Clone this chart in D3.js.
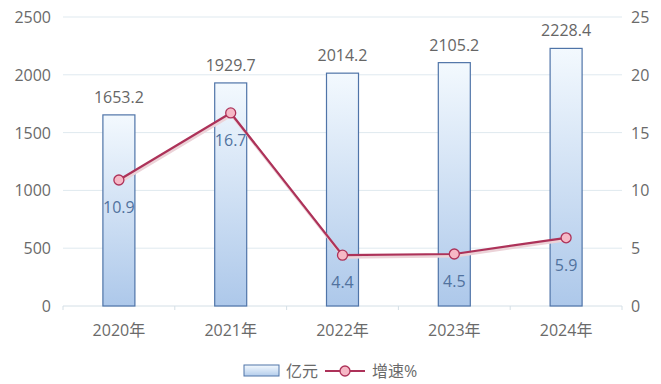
<!DOCTYPE html>
<html>
<head>
<meta charset="utf-8">
<script src="https://cdn.jsdelivr.net/npm/d3@7"></script>
<style>
body { margin: 0; background: #fff; }
text { font-family: "Open Sans", "Noto Sans CJK SC", sans-serif; }
</style>
</head>
<body>
<svg id="chart" width="661" height="384"></svg>
<script>
let years = ['2020年', '2021年', '2022年', '2023年', '2024年']
let amount = [1653.2, 1929.7, 2014.2, 2105.2, 2228.4]
let growth = [10.9, 16.7, 4.4, 4.5, 5.9]
let leftTicks = [0, 500, 1000, 1500, 2000, 2500]
let rightTicks = [0, 5, 10, 15, 20, 25]

let svg = d3.select('#chart')
let plotL = 63, plotR = 622, plotT = 17, plotB = 306

let x = d3.scaleBand().domain(years).range([plotL, plotR])
let yL = d3.scaleLinear().domain([0, 2500]).range([plotB, plotT])
let yR = d3.scaleLinear().domain([0, 25]).range([plotB, plotT])

let defs = svg.append('defs')
let grad = defs.append('linearGradient').attr('id', 'barGrad')
  .attr('x1', 0).attr('y1', 0).attr('x2', 0).attr('y2', 1)
grad.append('stop').attr('offset', '0%').attr('stop-color', '#f3f9fe')
grad.append('stop').attr('offset', '100%').attr('stop-color', '#adc8ea')
let lgrad = defs.append('linearGradient').attr('id', 'legGrad')
  .attr('x1', 0).attr('y1', 0).attr('x2', 0).attr('y2', 1)
lgrad.append('stop').attr('offset', '0%').attr('stop-color', '#f3f9fe')
lgrad.append('stop').attr('offset', '100%').attr('stop-color', '#b4cdec')

// grid
svg.selectAll('.grid').data(leftTicks.slice(1)).enter().append('line')
  .attr('x1', plotL).attr('x2', plotR)
  .attr('y1', d => yL(d)).attr('y2', d => yL(d))
  .style('stroke', '#dfe9ef').style('stroke-width', 1)

// baseline + ticks
svg.append('line').attr('x1', plotL).attr('x2', plotR)
  .attr('y1', plotB).attr('y2', plotB)
  .style('stroke', '#d4dfe6')
let sep = years.map(d => x(d)).concat([plotR])
svg.selectAll('.sep').data(sep).enter().append('line')
  .attr('x1', d => d).attr('x2', d => d)
  .attr('y1', plotB).attr('y2', plotB + 4)
  .style('stroke', '#d4dfe6')

// axes labels
svg.selectAll('.lt').data(leftTicks).enter().append('text')
  .attr('x', 51).attr('y', d => yL(d) + 6)
  .attr('text-anchor', 'end')
  .style('font-size', '16px').style('fill', '#6a6a6a')
  .text(d => d)
svg.selectAll('.rt').data(rightTicks).enter().append('text')
  .attr('x', 631).attr('y', d => yR(d) + 6)
  .style('font-size', '16px').style('fill', '#6a6a6a')
  .text(d => d)
svg.selectAll('.xt').data(years).enter().append('text')
  .attr('x', d => x(d) + x.bandwidth() / 2).attr('y', plotB + 30)
  .attr('text-anchor', 'middle')
  .style('font-size', '16px').style('fill', '#6a6a6a')
  .text(d => d)

// bars
let bw = 32
svg.selectAll('.bar').data(amount).enter().append('rect')
  .attr('x', (d, i) => x(years[i]) + x.bandwidth() / 2 - bw / 2)
  .attr('y', d => yL(d))
  .attr('width', bw)
  .attr('height', d => plotB - yL(d))
  .style('fill', 'url(#barGrad)')
  .style('stroke', '#4f74a8').style('stroke-width', 1.2)

svg.selectAll('.bl').data(amount).enter().append('text')
  .attr('x', (d, i) => x(years[i]) + x.bandwidth() / 2)
  .attr('y', d => yL(d) - 12)
  .attr('text-anchor', 'middle')
  .style('font-size', '16px').style('fill', '#666')
  .text(d => d.toFixed(1))

// line
let line = d3.line()
  .x((d, i) => x(years[i]) + x.bandwidth() / 2)
  .y(d => yR(d))
svg.append('path').datum(growth)
  .attr('d', line)
  .attr('transform', 'translate(1,2)')
  .style('fill', 'none').style('stroke', '#ecd3d8').style('stroke-width', 3)
svg.append('path').datum(growth)
  .attr('d', line)
  .style('fill', 'none').style('stroke', '#ad3259').style('stroke-width', 2.2)
svg.selectAll('.pt').data(growth).enter().append('circle')
  .attr('cx', (d, i) => x(years[i]) + x.bandwidth() / 2)
  .attr('cy', d => yR(d))
  .attr('r', 5)
  .style('fill', '#f6b8c6').style('stroke', '#ad3259').style('stroke-width', 1.3)

svg.selectAll('.gl').data(growth).enter().append('text')
  .attr('x', (d, i) => x(years[i]) + x.bandwidth() / 2)
  .attr('y', d => yR(d) + 33)
  .attr('text-anchor', 'middle')
  .style('font-size', '16px').style('fill', '#51729e')
  .text(d => d)

// legend
svg.append('rect').attr('x', 244).attr('y', 365).attr('width', 35).attr('height', 11)
  .style('fill', 'url(#legGrad)').style('stroke', '#4f74a8')
svg.append('text').attr('x', 286).attr('y', 377)
  .style('font-size', '16px').style('fill', '#6a6a6a').text('亿元')
svg.append('line').attr('x1', 325).attr('x2', 365).attr('y1', 371).attr('y2', 371)
  .style('stroke', '#ad3259').style('stroke-width', 2.2)
svg.append('circle').attr('cx', 345).attr('cy', 371).attr('r', 5)
  .style('fill', '#f6b8c6').style('stroke', '#ad3259').style('stroke-width', 1.3)
svg.append('text').attr('x', 372).attr('y', 377)
  .style('font-size', '16px').style('fill', '#6a6a6a').text('增速%')
</script>
</body>
</html>
